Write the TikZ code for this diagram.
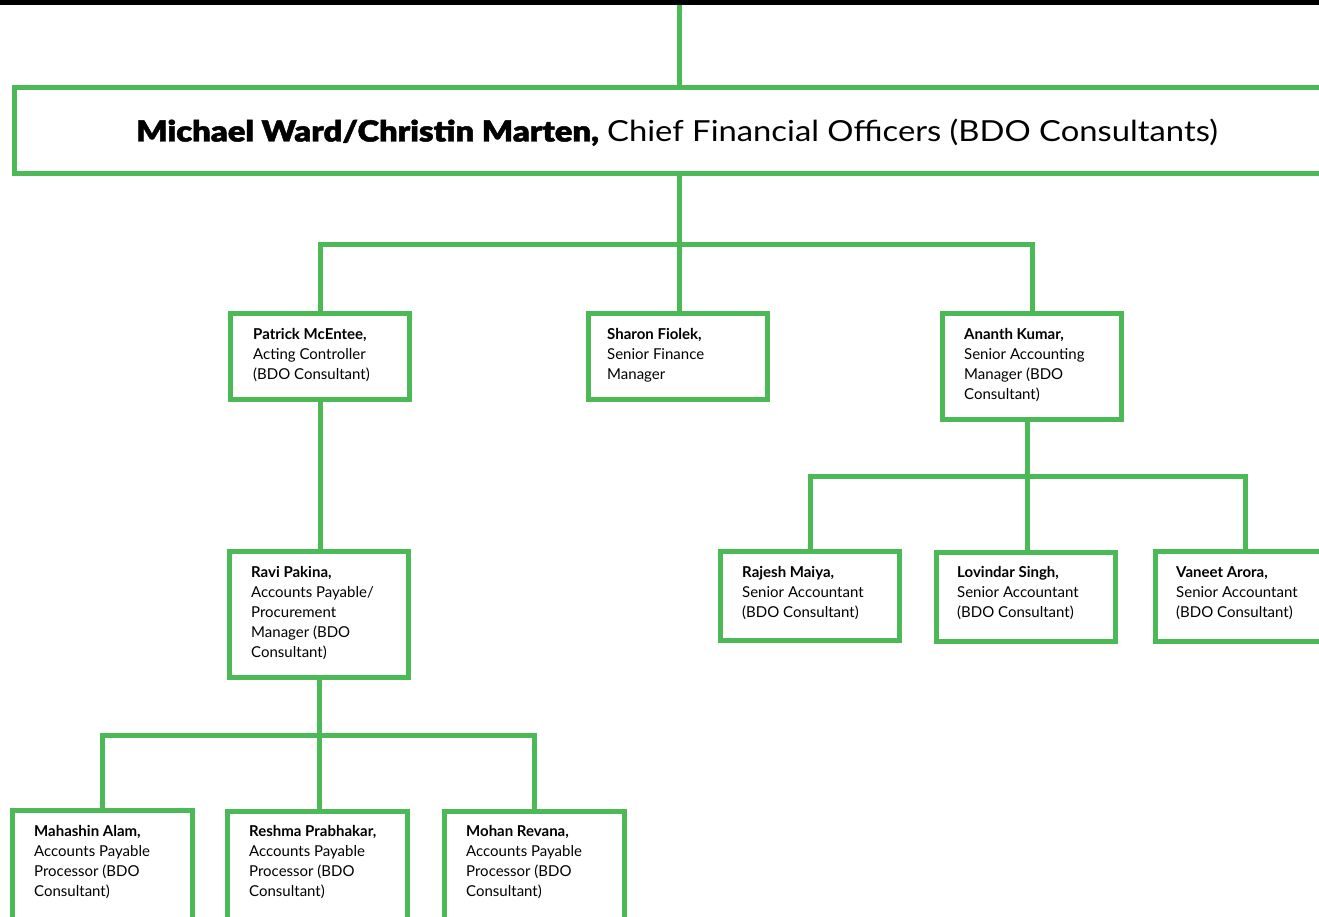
\documentclass[tikz,border=0pt]{standalone}
\usepackage{fontspec}
\setmainfont{Lato}
\newfontfamily\heavyfont[FakeBold=1.5]{Lato Black}
\definecolor{grn}{RGB}{76,185,87}
\begin{document}
\begin{tikzpicture}[x=1pt,y=-1pt,
  box/.style={draw=grn,line width=5pt,minimum width=179pt,inner sep=0pt},
  lbl/.style={anchor=north west,inner sep=0pt,align=left,font=\fontsize{15}{20}\selectfont},
  conn/.style={draw=grn,line width=5pt}]
\useasboundingbox (0,0) rectangle (1319,917);
\clip (0,0) rectangle (1319,917);
\fill[black] (0,0) rectangle (1319,5);
% boxes
\node[box,minimum width=1313pt,minimum height=86pt] (cfo) at (671,130.5) {};
\node[box,minimum height=86pt] (pat) at (320,356.5) {};
\node[box,minimum height=86pt] (sha) at (678,356.5) {};
\node[box,minimum height=106pt] (ana) at (1032,366.5) {};
\node[box,minimum height=126pt] (ravi) at (319,614.5) {};
\node[box,minimum height=89pt] (raj) at (810,596) {};
\node[box,minimum height=89pt] (lov) at (1025.5,597) {};
\node[box,minimum height=90pt] (van) at (1245,596.5) {};
\node[box,minimum width=180pt,minimum height=117pt] (mah) at (102.5,869) {};
\node[box,minimum width=180pt,minimum height=117pt] (res) at (317.5,870) {};
\node[box,minimum width=180pt,minimum height=117pt] (moh) at (534.5,870) {};
% texts
\node[anchor=base,inner sep=0pt,font=\fontsize{29}{32}\selectfont] (cfot) at (677,141.5) {\scalebox{1.13}[1]{{\heavyfont Michael Ward/Christin Marten,} Chief Financial Officers (BDO Consultants)}};
\node[lbl] (patt) at (253,328.5) {\textbf{Patrick McEntee,}\\Acting Controller\\(BDO Consultant)};
\node[lbl] (shat) at (607,328.5) {\textbf{Sharon Fiolek,}\\Senior Finance\\Manager};
\node[lbl] (anat) at (964,328.5) {\textbf{Ananth Kumar,}\\Senior Accounting\\Manager (BDO\\Consultant)};
\node[lbl] (ravit) at (251,566.5) {\textbf{Ravi Pakina,}\\Accounts Payable/\\Procurement\\Manager (BDO\\Consultant)};
\node[lbl] (rajt) at (742,566.5) {\textbf{Rajesh Maiya,}\\Senior Accountant\\(BDO Consultant)};
\node[lbl] (lovt) at (957,566.5) {\textbf{Lovindar Singh,}\\Senior Accountant\\(BDO Consultant)};
\node[lbl] (vant) at (1176,566.5) {\textbf{Vaneet Arora,}\\Senior Accountant\\(BDO Consultant)};
\node[lbl] (maht) at (34,825) {\textbf{Mahashin Alam,}\\Accounts Payable\\Processor (BDO\\Consultant)};
\node[lbl] (rest) at (249,825) {\textbf{Reshma Prabhakar,}\\Accounts Payable\\Processor (BDO\\Consultant)};
\node[lbl] (moht) at (466,825) {\textbf{Mohan Revana,}\\Accounts Payable\\Processor (BDO\\Consultant)};
% connectors
\coordinate (top) at (679,5);
\draw[conn] (top) -- (top |- cfo.north);
\coordinate (j1) at (679,245);
\draw[conn] (j1 |- cfo.south) -- (j1 |- sha.north);
\draw[conn] (pat.north) |- (j1) -| (ana.north);
\draw[conn] (pat.south) -- (pat.south |- ravi.north);
\coordinate (j2) at (1027,476);
\draw[conn] (j2 |- ana.south) -- (j2 |- lov.north);
\draw[conn] (raj.north) |- (j2) -| (van.north);
\coordinate (j3) at (319,735);
\draw[conn] (j3 |- ravi.south) -- (j3 |- res.north);
\draw[conn] (mah.north) |- (j3) -| (moh.north);
\end{tikzpicture}
\end{document}
